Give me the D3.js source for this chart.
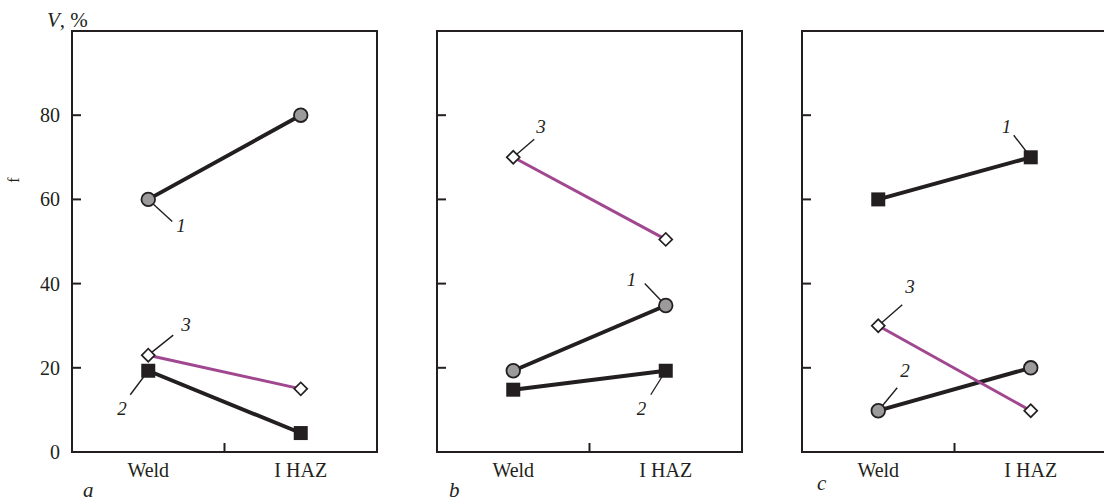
<!DOCTYPE html>
<html lang="en">
<head>
<meta charset="utf-8">
<title>V, % Weld / I HAZ</title>
<script src="https://d3js.org/d3.v7.min.js"></script>
<style>
    body { margin: 0; background: #fff; }
    svg text { font-family: "Liberation Serif", "Times New Roman", "DejaVu Serif", serif; fill: #231f20; }
    .frame { fill: none; stroke: #231f20; stroke-width: 2; }
    .tick { stroke: #231f20; stroke-width: 2; }
    .leader { stroke: #231f20; stroke-width: 1.4; }
</style>
</head>
<body>
<div id="chart"></div>
<script>
    // data
    const categories = ["Weld", "I HAZ"];
    const panelLetters = ["a", "b", "c"];
    const yTicks = [0, 20, 40, 60, 80];
    const circleSeries = [[60, 80], [19.3, 34.8], [9.8, 20]];
    const squareSeries = [[19.3, 4.5], [14.8, 19.3], [60, 70]];
    const diamondSeries = [[23, 15], [70, 50.5], [30, 9.8]];
    const circleNumbers = ["1", "1", "2"];
    const squareNumbers = ["2", "2", "1"];
    const diamondNumbers = ["3", "3", "3"];

    // where each curve number sits: point index, leader end offset, label offset
    const circleNotes = [[0, 24, 22, 28, 33], [1, -21, -22, -39, -19], [0, 19, -23, 22, -34]];
    const squareNotes = [[0, -18, 24, -31, 44], [1, -15, 24, -29, 44], [1, -17, -22, -29, -24]];
    const diamondNotes = [[0, 25, -20, 33, -24], [0, 21, -18, 23, -24], [0, 24, -21, 27, -33]];

    const W = 1104, H = 503;
    const serif = '"Liberation Serif", "Times New Roman", serif';
    const black = "#231f20", purple = "#a0478f", grey = "#9b9b9b";
    const panelLeft = 72, panelStep = 365, panelW = 305;
    const plotTop = 31, plotBottom = 452;

    const svg = d3.select("#chart").append("svg")
        .attr("width", W).attr("height", H)
        .attr("font-family", serif);

    const y = d3.scaleLinear().domain([0, 100]).range([plotBottom, plotTop]);

    svg.append("text").attr("x", 47).attr("y", 27).attr("font-family", serif).style("font-size", "21px")
        .html('<tspan font-style="italic">V</tspan>, %');
    svg.append("text").attr("transform", "translate(19,180) rotate(-90)").attr("font-family", serif)
        .attr("text-anchor", "middle").style("font-size", "16px").text("f");

    const letterY = [497, 497, 490];
    const letterDx = [11, 12, 15];

    panelLetters.forEach(function (letter, p) {
        const x0 = panelLeft + p * panelStep;
        const x = d3.scalePoint().domain(categories).range([x0, x0 + panelW]).padding(0.5);
        const g = svg.append("g");

        g.append("rect").attr("class", "frame")
            .attr("x", x0).attr("y", plotTop).attr("width", panelW).attr("height", plotBottom - plotTop);

        // inward y ticks
        g.selectAll("line.ytick").data(yTicks.filter(d => d > 0)).enter()
            .append("line").attr("class", "tick")
            .attr("x1", x0).attr("x2", x0 + 9)
            .attr("y1", d => y(d)).attr("y2", d => y(d));
        // mid x tick
        g.append("line").attr("class", "tick")
            .attr("x1", x0 + panelW / 2).attr("x2", x0 + panelW / 2)
            .attr("y1", plotBottom).attr("y2", plotBottom - 9);

        if (p === 0) {
            g.selectAll("text.ylab").data(yTicks).enter().append("text")
                .attr("x", x0 - 12).attr("y", d => y(d) + 7)
                .attr("text-anchor", "end").attr("font-family", serif).style("font-size", "20px")
                .text(d => d);
        }

        g.selectAll("text.xlab").data(categories).enter().append("text")
            .attr("x", d => x(d)).attr("y", 477)
            .attr("text-anchor", "middle").attr("font-family", serif).style("font-size", "20px")
            .text(d => d);

        g.append("text").attr("x", x0 + letterDx[p]).attr("y", letterY[p]).attr("font-family", serif)
            .style("font-size", "21px").style("font-style", "italic").text(letter);

        const line = d3.line().x((d, i) => x(categories[i])).y(d => y(d));

        const series = [
            {vals: circleSeries[p], num: circleNumbers[p], note: circleNotes[p], shape: "circle", color: black, sw: 3.9},
            {vals: squareSeries[p], num: squareNumbers[p], note: squareNotes[p], shape: "square", color: black, sw: 3.9},
            {vals: diamondSeries[p], num: diamondNumbers[p], note: diamondNotes[p], shape: "diamond", color: purple, sw: 3}
        ];

        series.forEach(function (s) {
            g.append("path").attr("d", line(s.vals))
                .attr("fill", "none").attr("stroke", s.color).attr("stroke-width", s.sw);
        });

        // curve numbers with leader lines
        series.forEach(function (s) {
            const n = s.note;
            const px = x(categories[n[0]]), py = y(s.vals[n[0]]);
            g.append("line").attr("class", "leader")
                .attr("x1", px).attr("y1", py)
                .attr("x2", px + n[1]).attr("y2", py + n[2]);
            g.append("text").attr("x", px + n[3]).attr("y", py + n[4]).attr("font-family", serif)
                .style("font-size", "19px").style("font-style", "italic").text(s.num);
        });

        series.forEach(function (s) {
            s.vals.forEach(function (v, i) {
                const cx = x(categories[i]), cy = y(v);
                if (s.shape === "circle") {
                    g.append("circle").attr("cx", cx).attr("cy", cy).attr("r", 6.8)
                        .attr("fill", grey).attr("stroke", black).attr("stroke-width", 1.8);
                } else if (s.shape === "square") {
                    g.append("rect").attr("x", cx - 7).attr("y", cy - 7)
                        .attr("width", 14).attr("height", 14).attr("fill", black);
                } else {
                    g.append("rect").attr("x", -4.6).attr("y", -4.6)
                        .attr("width", 9.2).attr("height", 9.2)
                        .attr("transform", "translate(" + cx + "," + cy + ") rotate(45)")
                        .attr("fill", "#fff").attr("stroke", black).attr("stroke-width", 1.7);
                }
            });
        });
    });
</script>
</body>
</html>
